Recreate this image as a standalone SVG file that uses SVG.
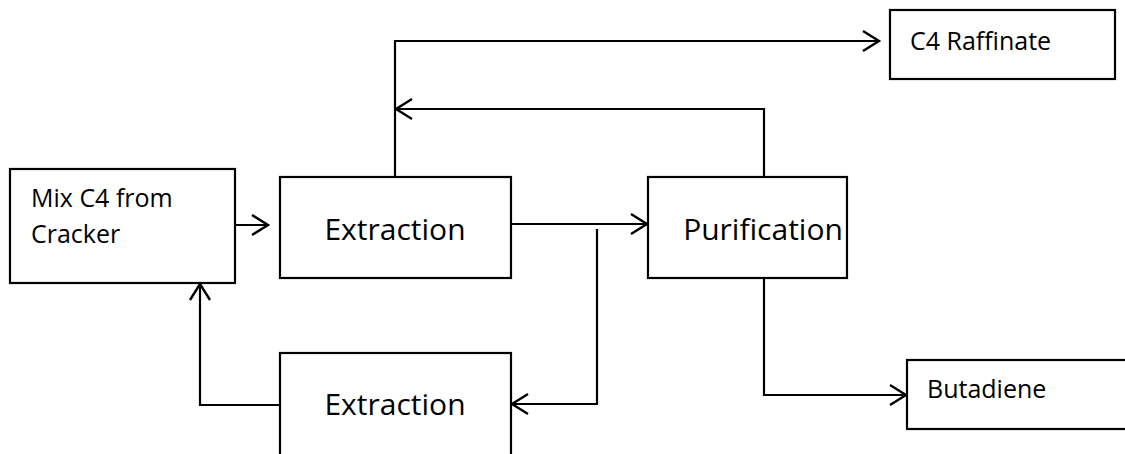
<svg xmlns="http://www.w3.org/2000/svg" width="1125" height="454" viewBox="0 0 1125 454">
  <style>
    .box { fill: #ffffff; stroke: #000000; stroke-width: 2.2; }
    .wire { fill: none; stroke: #000000; stroke-width: 2.2; marker-end: url(#chev); }
    .big { font-family: "Open Sans", "Liberation Sans", sans-serif; font-size: 30px; fill: #000000; text-anchor: middle; }
    .small { font-family: "Open Sans", "Liberation Sans", sans-serif; font-size: 25px; fill: #000000; }
  </style>
  <defs>
    <marker id="chev" markerUnits="userSpaceOnUse" markerWidth="22" markerHeight="26" viewBox="-19 -13 22 26" refX="0" refY="0" orient="auto">
      <path d="M-16,-10 L0,0 L-16,10" fill="none" stroke="#000000" stroke-width="2.4"/>
    </marker>
  </defs>

  <rect width="1125" height="454" fill="#ffffff"/>

  <g id="connectors">
    <!-- feed into first extraction -->
    <path class="wire" d="M235,225 L268,225"/>
    <!-- extraction overhead to raffinate -->
    <path class="wire" d="M395,177 L395,41 L879,41"/>
    <!-- purification overhead recycle -->
    <path class="wire" d="M764,177 L764,109 L396,109"/>
    <!-- extraction to purification -->
    <path class="wire" d="M511,224 L647,224"/>
    <!-- side stream down to second extraction -->
    <path class="wire" d="M597,229 L597,404 L512,404"/>
    <!-- second extraction back to feed -->
    <path class="wire" d="M280,405 L200,405 L200,284"/>
    <!-- purification bottoms to product -->
    <path class="wire" d="M764,278 L764,395 L906,395"/>
  </g>

  <g id="feed">
    <rect class="box" x="10" y="169" width="225" height="114"/>
    <text class="small" x="31" y="207">Mix C4 from</text>
    <text class="small" x="31" y="243">Cracker</text>
  </g>

  <g id="extraction1">
    <rect class="box" x="280" y="177" width="231" height="101"/>
    <text class="big" x="395" y="240">Extraction</text>
  </g>

  <g id="purification">
    <rect class="box" x="648" y="177" width="199" height="101"/>
    <text class="big" x="763" y="240">Purification</text>
  </g>

  <g id="extraction2">
    <rect class="box" x="280" y="353" width="231" height="130"/>
    <text class="big" x="395" y="415">Extraction</text>
  </g>

  <g id="raffinate">
    <rect class="box" x="890" y="10" width="225" height="69"/>
    <text class="small" x="910" y="50">C4 Raffinate</text>
  </g>

  <g id="butadiene">
    <rect class="box" x="907" y="360" width="240" height="69"/>
    <text class="small" x="927" y="398">Butadiene</text>
  </g>
</svg>
